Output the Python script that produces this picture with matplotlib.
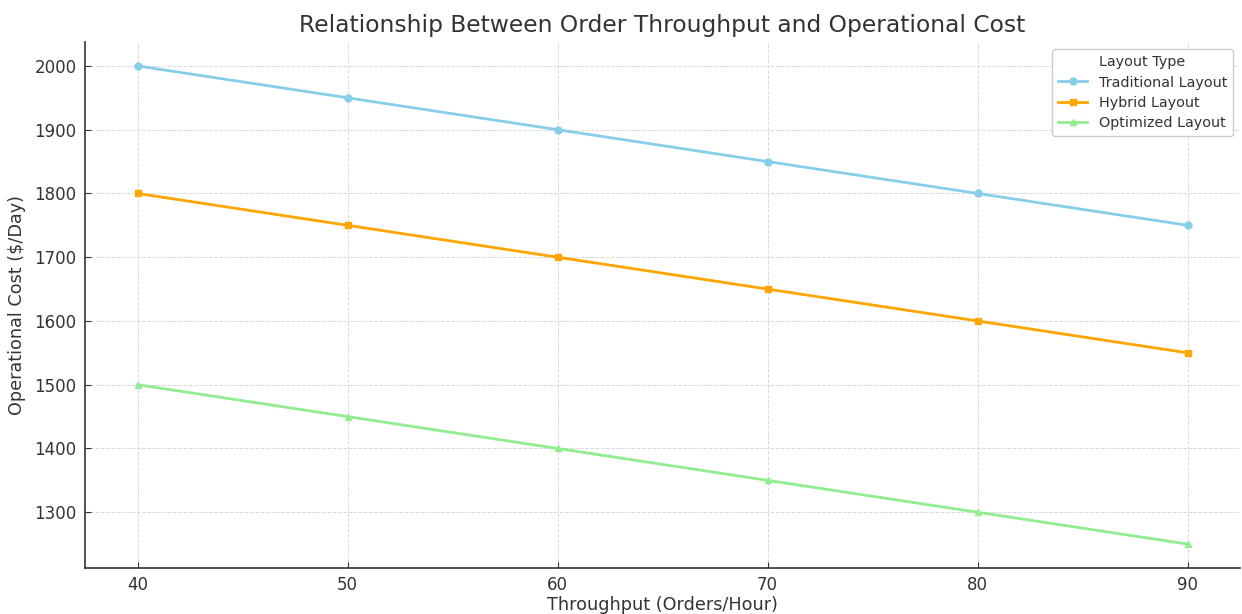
import matplotlib
matplotlib.use("Agg")
import matplotlib.pyplot as plt

plt.rcParams["font.family"] = ["DejaVu Sans"]

throughput = [40, 50, 60, 70, 80, 90]
traditional = [2000, 1950, 1900, 1850, 1800, 1750]
hybrid = [1800, 1750, 1700, 1650, 1600, 1550]
optimized = [1500, 1450, 1400, 1350, 1300, 1250]

series = [
    ("Traditional Layout", traditional, "skyblue", "o"),
    ("Hybrid Layout", hybrid, "orange", "s"),
    ("Optimized Layout", optimized, "lightgreen", "^"),
]

txt = "#333333"
fig = plt.figure(figsize=(12.42, 6.14), dpi=100)
ax = fig.add_axes([85/1242, 1 - 568/614, 1155/1242, 526/614])

for name, vals, col, mk in series:
    ax.plot(throughput, vals, marker=mk, color=col, lw=2, ms=5, label=name)

ax.grid(True, ls="--", color="#d9d9d9", lw=0.7)
ax.set_axisbelow(True)
for s in ["top", "right"]:
    ax.spines[s].set_visible(False)
for s in ["left", "bottom"]:
    ax.spines[s].set_color(txt)
    ax.spines[s].set_linewidth(1.2)
ax.tick_params(direction="in", length=4, colors=txt, labelsize=12, pad=6)

ax.set_title("Relationship Between Order Throughput and Operational Cost",
             fontsize=16.8, color=txt, pad=7)
ax.set_xlabel("Throughput (Orders/Hour)", fontsize=12.7, color=txt, labelpad=1)
ax.set_ylabel("Operational Cost ($/Day)", fontsize=12.7, color=txt, labelpad=6)

leg = ax.legend(title="Layout Type", loc="upper right", fontsize=10.4,
                title_fontsize=10.4, bbox_to_anchor=(1.0, 1.0), framealpha=1,
                labelspacing=0.45)
leg.get_frame().set_edgecolor("#cccccc")
for t in leg.get_texts():
    t.set_color(txt)
leg.get_title().set_color(txt)

fig.savefig("out.png", dpi=100)
